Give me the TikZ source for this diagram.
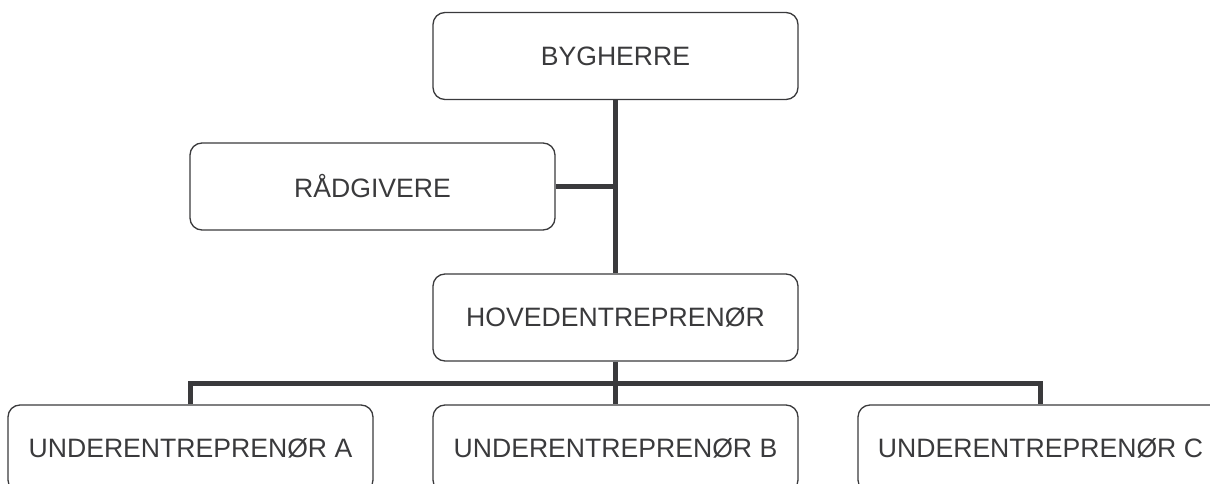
\documentclass[tikz,border=0pt]{standalone}
\usepackage{fontspec}
\setmainfont{Liberation Sans}
\usetikzlibrary{positioning}
\definecolor{ink}{HTML}{3A3A3C}

\begin{document}
\begin{tikzpicture}[x=1pt, y=-1pt,
  box/.style={draw=ink, text=ink, line width=1.3pt, rounded corners=12pt,
    minimum width=365pt, minimum height=87pt, inner sep=0pt,
    font=\fontsize{26.6}{30}\selectfont},
  conn/.style={draw=ink, line width=5pt}]
\useasboundingbox (0, 0) rectangle (1210, 484);
\clip (0, 0) rectangle (1210, 484);
\node[box] (byg) at (615.5, 56) {BYGHERRE};
\node[box] (raad) at (372.5, 186.5) {RÅDGIVERE};
\node[box] (hoved) at (615.5, 317.5) {HOVEDENTREPRENØR};

\node[box] (u1) at (190.5, 448.5) {UNDERENTREPRENØR A};
\node[box] (u2) at (615.5, 448.5) {UNDERENTREPRENØR B};
\node[box] (u3) at (1040.5, 448.5) {UNDERENTREPRENØR C};
\coordinate (fork) at (615.5, 383);
\draw[conn] (byg) -- (hoved);
\draw[conn] (raad) -- (raad -| byg);
\draw[conn] (hoved) -- (fork);
\draw[conn] (u1.north) |- (fork) -| (u3.north);
\draw[conn] (fork) -- (u2);
\end{tikzpicture}
\end{document}
